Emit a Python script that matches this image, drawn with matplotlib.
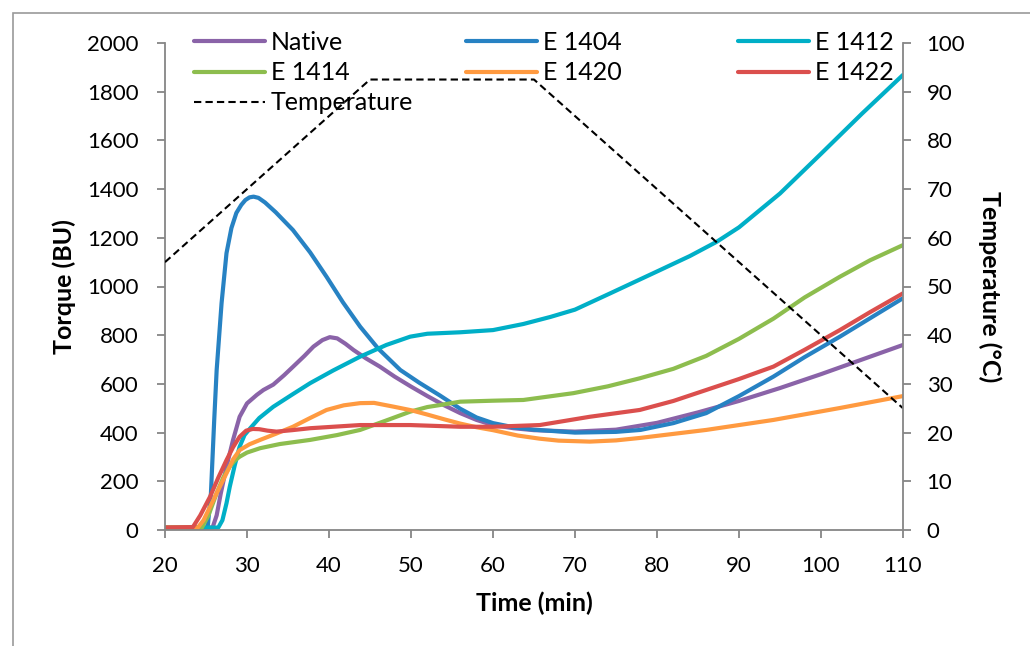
import matplotlib
matplotlib.use("Agg")
import matplotlib.pyplot as plt
from matplotlib.patches import Rectangle

plt.rcParams['font.family'] = ['Lato', 'DejaVu Sans']

# ---------------- data ----------------
native_t = [20, 25.8, 26.3, 26.8, 27.5, 28.3, 29.1, 30, 31.2, 32, 33.2, 34.5, 35.6, 37, 38.1, 39.2, 40.1, 41, 42, 43,
            44.5, 46.2, 48, 50, 52, 54, 56, 58, 60, 62.5, 65, 70, 75, 80, 85, 90, 95, 100, 105, 110]
native_v = [10, 10, 60, 150, 260, 370, 465, 520, 555, 575, 597, 635, 670, 715, 753, 780, 792, 787, 765, 739,
            705, 671, 630, 589, 550, 513, 480, 452, 431, 418, 410, 404, 412, 440, 483, 530, 583, 640, 700, 760]

e1404_t = [20, 25.2, 25.6, 26.0, 26.3, 26.9, 27.5, 28.1, 28.7, 29.3, 29.8, 30.3, 30.8, 31.4, 32.2, 33.5, 35.6, 37.7,
           39.7, 41.7, 43.8, 46, 48.7, 51, 53.5, 56, 58, 60, 62.5, 65, 70, 75, 78, 82, 86, 90, 94.2, 98, 102.3, 106, 110]
e1404_v = [10, 10, 150, 450, 657, 932, 1137, 1240, 1302, 1335, 1355, 1366, 1369, 1364, 1345, 1305, 1232, 1140,
           1040, 935, 835, 745, 657, 605, 553, 498, 462, 439, 422, 412, 400, 403, 411, 439, 480, 550, 630, 710, 794, 870, 952]

e1412_t = [20, 26.5, 27, 27.5, 27.9, 28.5, 29.1, 29.7, 30.4, 31.5, 33.2, 35.5, 37.7, 40.5, 43.8, 47, 49.9, 52, 56, 60,
           63.7, 67, 70, 74.3, 80.4, 84, 87.3, 90, 95, 100, 105, 110]
e1412_v = [10, 10, 40, 110, 178, 265, 342, 390, 418, 460, 506, 556, 603, 655, 712, 760, 794, 806, 812, 821,
           846, 875, 905, 972, 1068, 1125, 1184, 1243, 1382, 1545, 1710, 1869]

e1414_t = [20, 24.5, 25.3, 26.3, 27.1, 27.9, 28.5, 29.1, 30, 31.6, 34, 37.7, 41, 43.8, 47, 49.9, 52, 53.5, 56, 60,
           63.7, 69.8, 74, 77.9, 82, 86, 90, 94.2, 98, 102.3, 106, 110]
e1414_v = [10, 10, 60, 151, 215, 260, 285, 301, 318, 336, 353, 370, 390, 411, 450, 486, 505, 513, 527, 531,
           534, 562, 590, 623, 662, 715, 785, 868, 955, 1040, 1108, 1170]

e1420_t = [20, 24, 24.7, 25.5, 26.5, 27.5, 28.3, 29.1, 30.3, 31.6, 33.5, 35.6, 37.7, 39.7, 41.8, 43.8, 45.5, 47.8,
           50, 52, 54, 56, 58, 60, 63, 65.7, 68, 71.8, 75, 77.9, 86, 94.2, 102.3, 110]
e1420_v = [10, 10, 40, 96, 165, 233, 290, 328, 352, 370, 395, 424, 460, 493, 512, 521, 522, 507,
           492, 474, 455, 437, 422, 410, 388, 375, 367, 363, 368, 378, 411, 452, 501, 550]

e1422_t = [20, 23.4, 24.3, 25.5, 26.5, 27.5, 28.3, 29.1, 29.9, 30.7, 31.5, 32.5, 33.6, 35.5, 37.7, 43.8, 49.9, 56,
           60, 65.7, 71.8, 77.9, 82, 86, 90, 94.2, 98, 102.3, 106, 110]
e1422_v = [10, 12, 60, 137, 215, 287, 340, 383, 408, 415, 414, 408, 404, 410, 418, 431, 431, 424,
           424, 431, 465, 493, 530, 575, 620, 671, 740, 821, 895, 972]

temp_t = [20, 45, 65, 110]
temp_v = [55, 92.5, 92.5, 25]

x_ticks = [20, 30, 40, 50, 60, 70, 80, 90, 100, 110]
torque_ticks = [0, 200, 400, 600, 800, 1000, 1200, 1400, 1600, 1800, 2000]
temp_ticks = [0, 10, 20, 30, 40, 50, 60, 70, 80, 90, 100]

series = [
    ("Native", native_t, native_v, "#8A63A8"),
    ("E 1404", e1404_t, e1404_v, "#2782C3"),
    ("E 1412", e1412_t, e1412_v, "#00AFC7"),
    ("E 1414", e1414_t, e1414_v, "#8DBD4E"),
    ("E 1420", e1420_t, e1420_v, "#FF9A40"),
    ("E 1422", e1422_t, e1422_v, "#DB4F4D"),
]

# ---------------- figure ----------------
W, H = 1030, 646
fig = plt.figure(figsize=(W / 100, H / 100), dpi=100)
fig.patches.append(Rectangle((13 / W, -0.2), 1.2, 1 - 13 / H + 0.2, transform=fig.transFigure,
                             fill=False, edgecolor="#9A9A9A", linewidth=1.2))

ax = fig.add_axes([165 / W, 1 - 530 / H, (903 - 165) / W, (530 - 43) / H])
ax2 = ax.twinx()

FS = 16      # tick labels
LFS = 18     # axis titles and legend
spine_c = "#868686"

handles = {}
for name, t, v, c in series:
    ln, = ax.plot(t, v, color=c, lw=3, solid_capstyle='round', solid_joinstyle='round', label=name)
    handles[name] = ln

tl, = ax2.plot(temp_t, temp_v, color="black", lw=1.5, linestyle=(0, (3.5, 2)), label="Temperature")
handles["Temperature"] = tl

ax.set_xlim(20, 110)
ax.set_ylim(0, 2000)
ax2.set_ylim(0, 100)
ax.set_xticks(x_ticks)
ax.set_yticks(torque_ticks)
ax2.set_yticks(temp_ticks)

for a in (ax, ax2):
    for s in a.spines.values():
        s.set_color(spine_c)
        s.set_linewidth(1.3)
    a.spines['top'].set_visible(False)
ax.spines['right'].set_visible(False)
ax2.spines['left'].set_visible(False)
ax2.spines['bottom'].set_visible(False)

ax.tick_params(axis='x', direction='out', length=6, width=1.3, color=spine_c, labelsize=FS, pad=13)
ax.tick_params(axis='y', direction='out', length=6, width=1.3, color=spine_c, labelsize=FS, pad=13)
ax2.tick_params(axis='y', direction='out', length=6, width=1.3, color=spine_c, labelsize=FS, pad=11)

ax.set_xlabel("Time (min)", fontsize=LFS, fontweight='bold', va='center')
ax.xaxis.set_label_coords(0.5, -0.151)
ax.set_ylabel("Torque (BU)", fontsize=LFS, fontweight='bold', ha='center', va='center')
ax.yaxis.set_label_coords(-0.137, 0.5)
ax2.set_ylabel("Temperature (°C)", fontsize=LFS, fontweight='bold', rotation=-90, ha='center', va='center')
ax2.yaxis.set_label_coords(1.118, 0.5)

# legend: three columns placed like the reference
cols = [["Native", "E 1414", "Temperature"], ["E 1404", "E 1420"], ["E 1412", "E 1422"]]
col_x = [194, 466, 738]
for names, x0 in zip(cols, col_x):
    fig.legend([handles[n] for n in names], names, loc='upper left',
               bbox_to_anchor=(x0 / W, 1 - 31 / H), frameon=False, fontsize=LFS,
               handlelength=2.84, handletextpad=0.24, labelspacing=0.29,
               borderpad=0, borderaxespad=0)

fig.savefig("out.png", dpi=100)
